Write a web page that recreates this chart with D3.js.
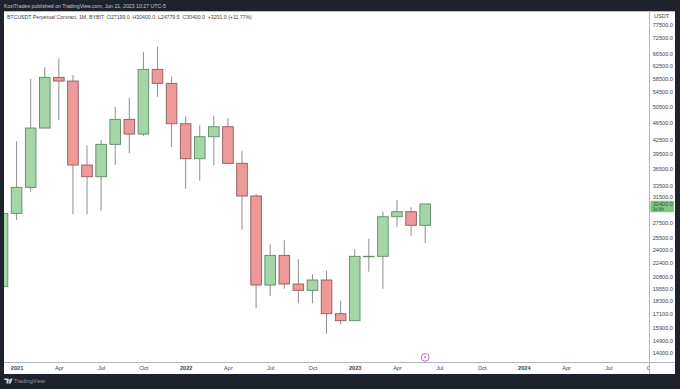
<!DOCTYPE html>
<html><head><meta charset="utf-8">
<script src="https://cdnjs.cloudflare.com/ajax/libs/d3/7.8.5/d3.min.js"></script>
<style>html,body{margin:0;padding:0;background:#1e222d;overflow:hidden}svg{display:block}text{font-family:"Liberation Sans",Arial,sans-serif}</style>
</head><body><svg id="c" width="680" height="389"></svg>
<script>
const months = d3.range(0, 31);
const opens  = [19736,28948,33157,45185,58871,57746,37250,35043,41499,47286,43792,61384,57057,46211,38496,43180,45493,37583,31686,19912,23250,20017,19369,20440,17143,16528,23131,23131,28441,29193,27199];
const closes = [28948,33157,45185,58871,57746,37250,35043,41499,47286,43792,61384,57057,46211,38496,43180,45493,37583,31686,19912,23250,20017,19369,20440,17143,16528,23131,23131,28441,29193,27199,30400];
const highs  = [28948,42155,58445,62027,65010,59584,41285,42442,50501,52928,67288,69069,59059,48031,45899,48178,47530,40075,32018,24626,25185,22771,21056,21455,18347,23990,25355,29193,31031,29872,30400];
const lows   = [19736,27954,32405,45185,47113,28844,28844,29345,37309,39596,43404,53203,40919,32917,34321,37250,37583,26575,17633,18802,19531,18099,18099,15444,16220,16528,21343,19531,26953,25756,24779.5];
const priceTicks = [77500,72500,66500,62500,58500,54500,50500,46500,42500,39500,36500,33500,31500,27500,25500,24000,22400,20800,19550,18300,17100,15900,14900,14000];
const timeTickIdx = [1,4,7,10,13,16,19,22,25,28,31,34,37,40,43,46];
const timeTickLabels = ["2021","Apr","Jul","Oct","2022","Apr","Jul","Oct","2023","Apr","Jul","Oct","2024","Apr","Jul","Oct"];
const lastPrice = 30400;

const bg="#1e222d", up="#a5d6a7", down="#ef9a9a", upEdge="#5f8a66", downEdge="#8f5a5c", wick="#8f8f8f", axisC="#b2b5be", txt="#3c3f48";
const L=4,R=675,T=11,B=374,AX=649.5,AY=362.5;
const W=680,H=389;
const svg=d3.select("#c");
const x=d3.scaleLinear().domain([0,46]).range([2.5,650.6]);
const y=d3.scaleLog().domain([14000,77500]).range([352.5,24.7]);

svg.append("rect").attr("width",W).attr("height",H).attr("fill",bg);
svg.append("rect").attr("x",L).attr("y",T).attr("width",R-L).attr("height",B-T).attr("fill","#fff");
svg.append("line").attr("x1",L).attr("x2",R).attr("y1",T+0.5).attr("y2",T+0.5).attr("stroke","#9a9ea8").attr("stroke-width",0.7);
svg.append("text").attr("x",4).attr("y",8.4).attr("font-size",5.2).attr("fill","#c4c7d0")
  .text("KoziTrades published on TradingView.com, Jun 21, 2023 10:27 UTC-5");
svg.append("text").attr("x",7).attr("y",19.4).attr("font-size",5.2).attr("fill",txt)
  .attr("xml:space","preserve").text("BTCUSDT Perpetual Contract, 1M, BYBIT  O27199.0  H30400.0  L24779.5  C30400.0  +3201.0 (+11.77%)");

const defs=svg.append("defs");
defs.append("clipPath").attr("id","plot").append("rect").attr("x",L).attr("y",T).attr("width",AX-L).attr("height",AY-T);
defs.append("clipPath").attr("id","xa").append("rect").attr("x",L).attr("y",AY).attr("width",AX-L).attr("height",B-AY);

const plot=svg.append("g").attr("clip-path","url(#plot)");
const g=plot.selectAll("g").data(months).join("g");
g.append("line").attr("x1",i=>x(i)).attr("x2",i=>x(i)).attr("y1",i=>y(highs[i])).attr("y2",i=>y(lows[i]))
  .attr("stroke",wick).attr("stroke-width",1);
g.append("rect").attr("x",i=>x(i)-5.3).attr("width",10.6)
  .attr("y",i=>y(Math.max(opens[i],closes[i])))
  .attr("height",i=>Math.max(0.4,Math.abs(y(opens[i])-y(closes[i]))))
  .attr("fill",i=>closes[i]>=opens[i]?up:down)
  .attr("stroke",i=>closes[i]>=opens[i]?upEdge:downEdge).attr("stroke-width",0.9);

// event marker
const ev=svg.append("g").attr("transform",`translate(${x(30)},357.3)`);
ev.append("circle").attr("r",3.9).attr("fill","#fff").attr("stroke","#ab47bc").attr("stroke-width",0.8);
ev.append("path").attr("d","M0.8,-2.3 L-1.2,0.4 L-0.1,0.4 L-0.8,2.3 L1.2,-0.5 L0.1,-0.5 Z").attr("fill","#ab47bc");

// axes
const yAxis=d3.axisRight(y).tickValues(priceTicks).tickFormat(d=>d3.format(".1f")(d)).tickSize(0).tickPadding(3.2);
const ya=svg.append("g").attr("transform",`translate(${AX},0)`).call(yAxis);
ya.select(".domain").remove();
ya.selectAll("text").attr("font-size",5.6).attr("fill",txt).attr("font-family",'"Liberation Sans",Arial,sans-serif');

const xAxis=d3.axisBottom(x).tickValues(timeTickIdx).tickFormat((d,i)=>timeTickLabels[i]).tickSize(0).tickPadding(3.2);
const xi=svg.append("g").attr("clip-path","url(#xa)").append("g").attr("transform",`translate(0,${AY})`).call(xAxis);
xi.select(".domain").remove();
xi.selectAll("text").attr("font-size",5.6).attr("fill",txt).attr("font-family",'"Liberation Sans",Arial,sans-serif')
  .attr("font-weight",(d,i)=>/^\d/.test(timeTickLabels[i])?"bold":"normal");

svg.append("line").attr("x1",L).attr("x2",R).attr("y1",AY).attr("y2",AY).attr("stroke",axisC).attr("stroke-width",1);
svg.append("line").attr("x1",AX).attr("x2",AX).attr("y1",T).attr("y2",B).attr("stroke",axisC).attr("stroke-width",1);
svg.append("text").attr("x",654).attr("y",18).attr("font-size",5.6).attr("fill",txt).text("USDT");

// last price label
const ly=y(lastPrice);
svg.append("rect").attr("x",650.3).attr("y",ly-3.2).attr("width",23.6).attr("height",11.6).attr("rx",1).attr("fill","#81c784");
svg.append("text").attr("x",652.7).attr("y",ly+2.1).attr("font-size",5.6).attr("fill","#2c5a30").text(d3.format(".1f")(lastPrice));
svg.append("text").attr("x",652.7).attr("y",ly+7.4).attr("font-size",4.5).attr("fill","#2c5a30").text("9d 8h");

// footer logo
svg.append("path").attr("d","M4.2,378.4 H8.4 V383.4 H6.5 V380.1 H4.2 Z M9,379.2 a0.8,0.8 0 1 0 0.01,0 Z M10.6,378.4 H12.6 L10.6,383.4 H8.6 Z").attr("fill","#d1d4dc");
svg.append("text").attr("x",14).attr("y",383.4).attr("font-size",5.6).attr("fill","#9598a1").text("TradingView");
</script></body></html>
